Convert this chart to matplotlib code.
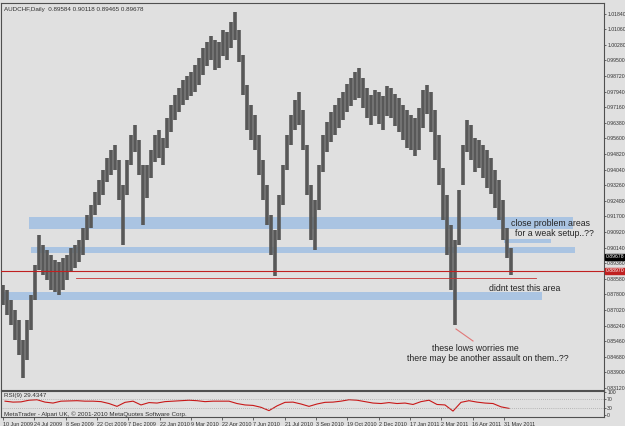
import numpy as np
import matplotlib.pyplot as plt
from matplotlib.patches import Rectangle

plt.close("all")

# =====================================================
# Data (AUDCHF daily, ~4 bars per chunk)
# =====================================================

bar_hi = [0.8827, 0.8802, 0.8752, 0.8702, 0.8652, 0.8552, 0.8652, 0.8777, 0.8927, 0.9077,
          0.9027, 0.9002, 0.8977, 0.8952, 0.8942, 0.8962, 0.8977, 0.9012, 0.9027, 0.9052,
          0.9112, 0.9177, 0.9227, 0.9292, 0.9352, 0.9402, 0.9462, 0.9502, 0.9527, 0.9452,
          0.9327, 0.9452, 0.9577, 0.9627, 0.9552, 0.9427, 0.9427, 0.9502, 0.9577, 0.9602,
          0.9562, 0.9662, 0.9727, 0.9777, 0.9812, 0.9852, 0.9872, 0.9892, 0.9927, 0.9962,
          1.0012, 1.0042, 1.0072, 1.0052, 1.0042, 1.0102, 1.0092, 1.0142, 1.0192, 1.0102,
          0.9977, 0.9827, 0.9727, 0.9677, 0.9577, 0.9452, 0.9327, 0.9177, 0.9102, 0.9277,
          0.9427, 0.9577, 0.9677, 0.9752, 0.9792, 0.9702, 0.9527, 0.9327, 0.9252, 0.9427,
          0.9577, 0.9642, 0.9692, 0.9727, 0.9762, 0.9792, 0.9832, 0.9862, 0.9892, 0.9912,
          0.9862, 0.9812, 0.9777, 0.9802, 0.9792, 0.9772, 0.9822, 0.9812, 0.9782, 0.9762,
          0.9727, 0.9702, 0.9677, 0.9662, 0.9712, 0.9802, 0.9827, 0.9792, 0.9702, 0.9577,
          0.9412, 0.9277, 0.9127, 0.9052, 0.9302, 0.9527, 0.9652, 0.9627, 0.9562, 0.9552,
          0.9527, 0.9502, 0.9462, 0.9402, 0.9352, 0.9252, 0.9112, 0.9012]
bar_lo = [0.8727, 0.8677, 0.8627, 0.8552, 0.8477, 0.8362, 0.8452, 0.8602, 0.8752, 0.8902,
          0.8877, 0.8852, 0.8802, 0.8792, 0.8777, 0.8802, 0.8852, 0.8892, 0.8912, 0.8942,
          0.8977, 0.9052, 0.9112, 0.9177, 0.9227, 0.9277, 0.9342, 0.9377, 0.9402, 0.9252,
          0.9027, 0.9277, 0.9427, 0.9492, 0.9377, 0.9127, 0.9262, 0.9362, 0.9442, 0.9462,
          0.9427, 0.9512, 0.9592, 0.9652, 0.9692, 0.9727, 0.9752, 0.9772, 0.9792, 0.9827,
          0.9877, 0.9922, 0.9952, 0.9902, 0.9912, 0.9972, 0.9952, 1.0012, 1.0052, 0.9942,
          0.9777, 0.9602, 0.9552, 0.9502, 0.9377, 0.9252, 0.9127, 0.8977, 0.8872, 0.9052,
          0.9227, 0.9402, 0.9527, 0.9602, 0.9627, 0.9502, 0.9277, 0.9052, 0.9002, 0.9202,
          0.9392, 0.9492, 0.9542, 0.9577, 0.9612, 0.9652, 0.9692, 0.9722, 0.9752, 0.9762,
          0.9712, 0.9662, 0.9627, 0.9672, 0.9632, 0.9602, 0.9672, 0.9662, 0.9622, 0.9592,
          0.9552, 0.9512, 0.9502, 0.9472, 0.9502, 0.9612, 0.9682, 0.9592, 0.9452, 0.9327,
          0.9152, 0.8977, 0.8802, 0.8627, 0.9027, 0.9327, 0.9492, 0.9452, 0.9392, 0.9412,
          0.9362, 0.9312, 0.9282, 0.9212, 0.9152, 0.9052, 0.8962, 0.8877]

rsi = [60, 56, 57, 64, 66, 56, 52, 60, 61, 62, 60, 60, 58, 50, 38, 55,
       60, 44, 54, 52, 58, 60, 62, 64, 62, 58, 60, 60, 60, 50, 44, 42,
       34, 20, 40, 55, 56, 48, 38, 48, 55, 56, 60, 66, 64, 58, 52, 50,
       54, 50, 52, 46, 58, 64, 46, 44, 18, 55, 62, 56, 52, 50, 36, 29.4]

date_labels = ["10 Jun 2009", "24 Jul 2009", "8 Sep 2009", "22 Oct 2009", "7 Dec 2009",
               "22 Jan 2010", "9 Mar 2010", "22 Apr 2010", "7 Jun 2010", "21 Jul 2010",
               "3 Sep 2010", "19 Oct 2010", "2 Dec 2010", "17 Jan 2011", "2 Mar 2011",
               "16 Apr 2011", "31 May 2011"]

price_ticks = [0.83120 + 0.0078*k for k in range(25)]
rsi_ticks = [0, 30, 70, 100]

last_price = 0.89678
line_price = 0.8897

# =====================================================
# Figure layout (pixel based, 625 x 426)
# =====================================================

W, H = 625, 426
bg = '#e0e0e0'
fg = '#303030'
small = dict(family='Liberation Sans', color=fg)

def rect(x0, y0, x1, y1):
    return [x0/W, 1 - y1/H, (x1 - x0)/W, (y1 - y0)/H]

fig = plt.figure(figsize=(W/100, H/100), dpi=100, facecolor=bg)
ax = fig.add_axes(rect(1, 3, 604, 390), facecolor=bg)
ax2 = fig.add_axes(rect(1, 391, 604, 417), facecolor=bg)

for a in (ax, ax2):
    for s in a.spines.values():
        s.set_color('#505050')
        s.set_linewidth(0.8)

# ---- price bars ----
bar_x = 2 + 4*np.arange(len(bar_hi))
ax.vlines(bar_x, bar_lo, bar_hi, color='#585858', lw=2.6, zorder=3)

ax.set_xlim(0, 603)
ax.set_ylim(0.8302, 1.0237)

# ---- drawn zones ----
band = '#aac4e2'
zones = [(28, 572, 0.9107, 0.9167), (503, 550, 0.9037, 0.9057),
         (30, 574, 0.8987, 0.9017), (0, 541, 0.8752, 0.8792)]
for x0, x1, p0, p1 in zones:
    ax.add_patch(Rectangle((x0, p0), x1 - x0, p1 - p0, color=band, lw=0, zorder=1))

ax.axhline(line_price, color='#c02020', lw=0.8, zorder=4)
ax.plot([75, 535], [0.8862, 0.8862], color='#c83030', lw=0.6, zorder=4)
ax.plot([455, 472], [0.8607, 0.8547], color='#e07878', lw=0.8, zorder=4)

# ---- annotations ----
tkw = dict(fontsize=6.3, color='#252525', family='Liberation Sans', va='center', zorder=5)
ax.text(510, 0.9132, "close problem areas", **tkw)
ax.text(514, 0.9087, "for a weak setup..??", **tkw)
ax.text(488, 0.8812, "didnt test this area", **tkw)
ax.text(431, 0.8512, "these lows worries me", **tkw)
ax.text(406, 0.8462, "there may be another assault on them..??", **tkw)

ax.text(3, 1.0207, "AUDCHF,Daily  0.89584 0.90118 0.89465 0.89678",
        fontsize=4.5, va='center', **small)

# ---- right price scale ----
ax.yaxis.tick_right()
ax.set_yticks(price_ticks)
ax.set_yticklabels([f"{p:.5f}" for p in price_ticks], **small)
ax.tick_params(axis='y', length=1.5, width=0.6, pad=0.8, labelsize=3.7,
               labelcolor=fg, color='#505050')
ax.set_xticks([])

bkw = dict(fontsize=3.7, color='white', va='center', ha='left', family='Liberation Sans',
           transform=ax.get_yaxis_transform(), clip_on=False, zorder=6)
ax.text(1.003, last_price, f"{last_price:.5f}",
        bbox=dict(boxstyle='square,pad=0.15', fc='black', ec='black'), **bkw)
ax.text(1.003, line_price, f"{line_price:.5f}",
        bbox=dict(boxstyle='square,pad=0.15', fc='#c02020', ec='#c02020'), **bkw)

# ---- RSI panel ----
rsi_x = 4 + 8*np.arange(len(rsi))
ax2.plot(rsi_x, rsi, color='#c81818', lw=0.8)
for lvl in (30, 70):
    ax2.axhline(lvl, color='#909090', lw=0.5, ls=(0, (1, 2)))
ax2.set_xlim(0, 603)
ax2.set_ylim(-7, 103)
ax2.yaxis.tick_right()
ax2.set_yticks(rsi_ticks)
ax2.set_yticklabels([str(v) for v in rsi_ticks], **small)
ax2.tick_params(axis='y', length=1.5, width=0.6, pad=0.8, labelsize=3.7,
                labelcolor=fg, color='#505050')
ax2.text(3, 84, "RSI(9) 29.4347", fontsize=4.5, va='center', **small)
ax2.text(3, 4, "MetaTrader - Alpari UK, \u00a9 2001-2010 MetaQuotes Software Corp.",
         fontsize=4.5, va='center', **small)

date_x = 2 + 31.3*np.arange(len(date_labels))
ax2.set_xticks(date_x)
ax2.set_xticklabels(date_labels, ha='left', **small)
ax2.tick_params(axis='x', length=2, width=0.6, pad=1.5, labelsize=3.9,
                labelcolor=fg, color='#505050')

fig.savefig("out.png", dpi=100, facecolor=bg)
